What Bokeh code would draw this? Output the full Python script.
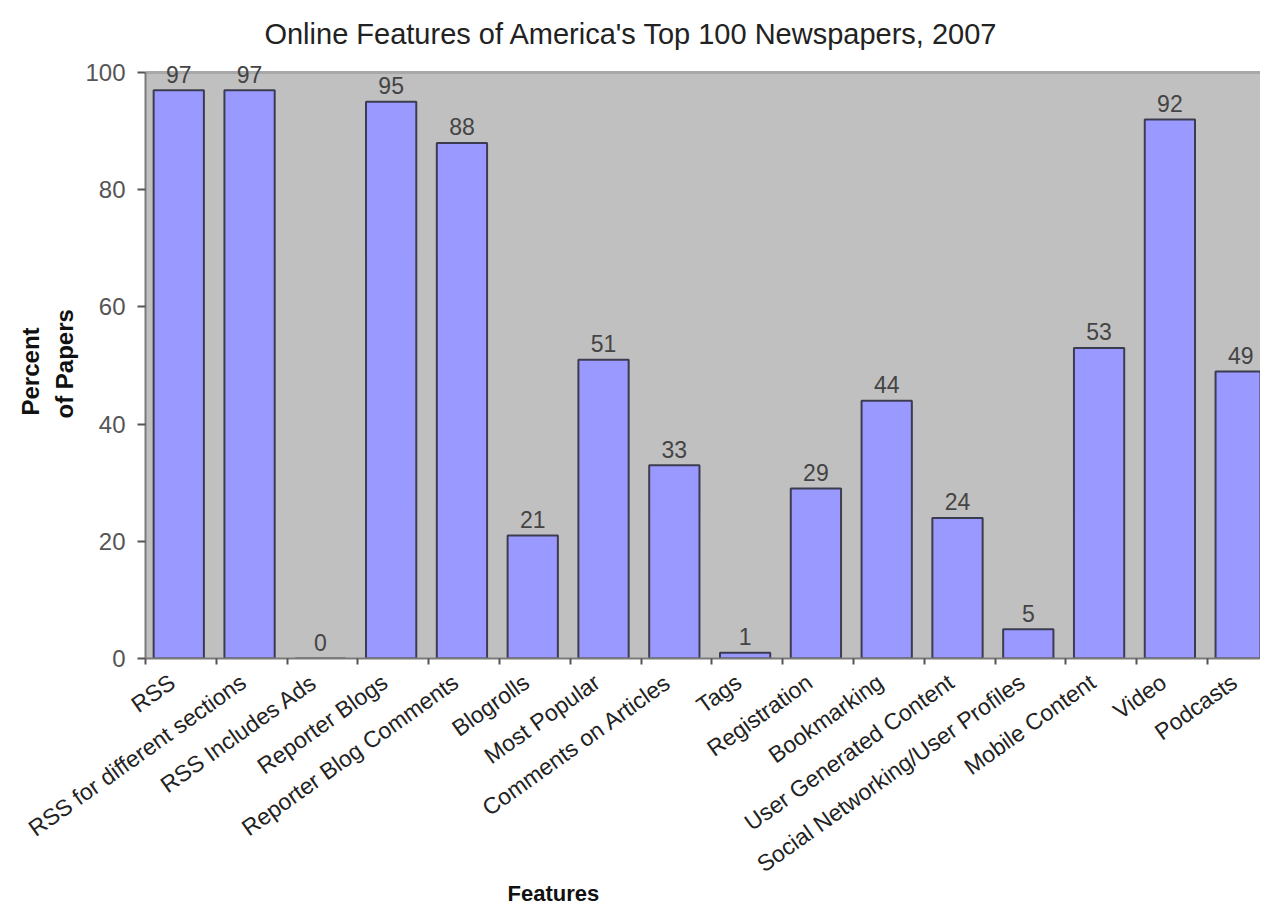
import math
from bokeh.plotting import figure
from bokeh.models import Range1d, FixedTicker, Label, ColumnDataSource, Title, BoxAnnotation, Span
from bokeh.core.properties import value
from bokeh.embed import file_html
from bokeh.resources import INLINE

features = ["RSS", "RSS for different sections", "RSS Includes Ads", "Reporter Blogs",
            "Reporter Blog Comments", "Blogrolls", "Most Popular", "Comments on Articles",
            "Tags", "Registration", "Bookmarking", "User Generated Content",
            "Social Networking/User Profiles", "Mobile Content", "Video", "Podcasts"]
percent = [97, 97, 0, 95, 88, 21, 51, 33, 1, 29, 44, 24, 5, 53, 92, 49]
y_ticks = [0, 20, 40, 60, 80, 100]
y_max = 100

FONT = "Liberation Sans"
idx = list(range(len(features)))
centers = [i + 0.47 for i in idx]
label_pos = [i + 0.38 for i in idx]

src = ColumnDataSource(dict(x=centers, top=percent, lab=[str(v) for v in percent]))

# frame reaches to the top of the canvas so the title / value labels above 100 are not clipped
p = figure(frame_width=1115, frame_height=658, output_backend="svg", toolbar_location=None,
           x_range=Range1d(0, 15.75), y_range=Range1d(0, 112.3),
           min_border_left=145, min_border_right=0, min_border_top=0, min_border_bottom=251)

p.background_fill_color = "white"
p.border_fill_color = "white"
p.outline_line_color = None

p.add_layout(BoxAnnotation(bottom=0, top=y_max, fill_color="#C0C0C0", fill_alpha=1,
                           line_color=None, level="underlay"))
p.add_layout(Span(location=y_max, dimension="width", line_color="#A8A8A8", line_width=3,
                  level="underlay"))

p.vbar(x="x", top="top", width=0.71, bottom=0, source=src,
       fill_color="#9999FF", line_color="#3C3C50", line_width=2)

p.text(x="x", y="top", text="lab", source=src, text_align="center", text_baseline="alphabetic",
       y_offset=-16, text_color="#444444", text_font=value(FONT), text_font_size="23px")

# y axis
p.yaxis.ticker = FixedTicker(ticks=y_ticks)
p.yaxis.bounds = (0, y_max)
p.yaxis.axis_line_color = "#7A7A7A"
p.yaxis.axis_line_width = 2
p.yaxis.major_tick_line_color = "#555555"
p.yaxis.major_tick_line_width = 2
p.yaxis.major_tick_in = 0
p.yaxis.major_tick_out = 8
p.yaxis.minor_tick_line_color = None
p.yaxis.major_label_text_font = FONT
p.yaxis.major_label_text_font_size = "24px"
p.yaxis.major_label_text_color = "#555555"
p.yaxis.major_label_standoff = 12

# y axis title, two centred lines
p.add_layout(Title(text="of Papers", align="left", offset=240, standoff=10,
                   text_font=FONT, text_font_size="24px", text_font_style="bold",
                   text_color="#111111"), "left")
p.add_layout(Title(text="Percent", align="left", offset=243, standoff=0,
                   text_font=FONT, text_font_size="24px", text_font_style="bold",
                   text_color="#111111"), "left")

# x axis
p.xaxis.ticker = FixedTicker(ticks=label_pos, minor_ticks=list(range(len(features) + 1)))
p.xaxis.major_label_overrides = {c: f for c, f in zip(label_pos, features)}
p.xaxis.major_label_orientation = math.radians(35.5)
p.xaxis.major_label_text_font = FONT
p.xaxis.major_label_text_font_size = "23px"
p.xaxis.major_label_text_color = "#222222"
p.xaxis.major_label_standoff = 15
p.xaxis.major_tick_line_color = None
p.xaxis.minor_tick_line_color = "#555555"
p.xaxis.minor_tick_line_width = 2
p.xaxis.minor_tick_in = 0
p.xaxis.minor_tick_out = 6
p.xaxis.axis_line_color = "#7A7A7A"
p.xaxis.axis_line_width = 2

p.xgrid.grid_line_color = None
p.ygrid.ticker = FixedTicker(ticks=[20, 40, 60, 80])
p.ygrid.grid_line_color = "#333333"
p.ygrid.grid_line_width = 2

p.add_layout(Label(x=486, y=625, x_units="screen", y_units="screen",
                   text="Online Features of America's Top 100 Newspapers, 2007",
                   text_align="center", text_baseline="alphabetic", text_font=FONT,
                   text_font_size="29px", text_color="#222222"))

p.add_layout(Title(text="Features", align="left", offset=362, standoff=-24,
                   text_font=FONT, text_font_size="22px", text_font_style="bold",
                   text_color="#111111"), "below")

open("out.html", "w").write(file_html(p, INLINE))
